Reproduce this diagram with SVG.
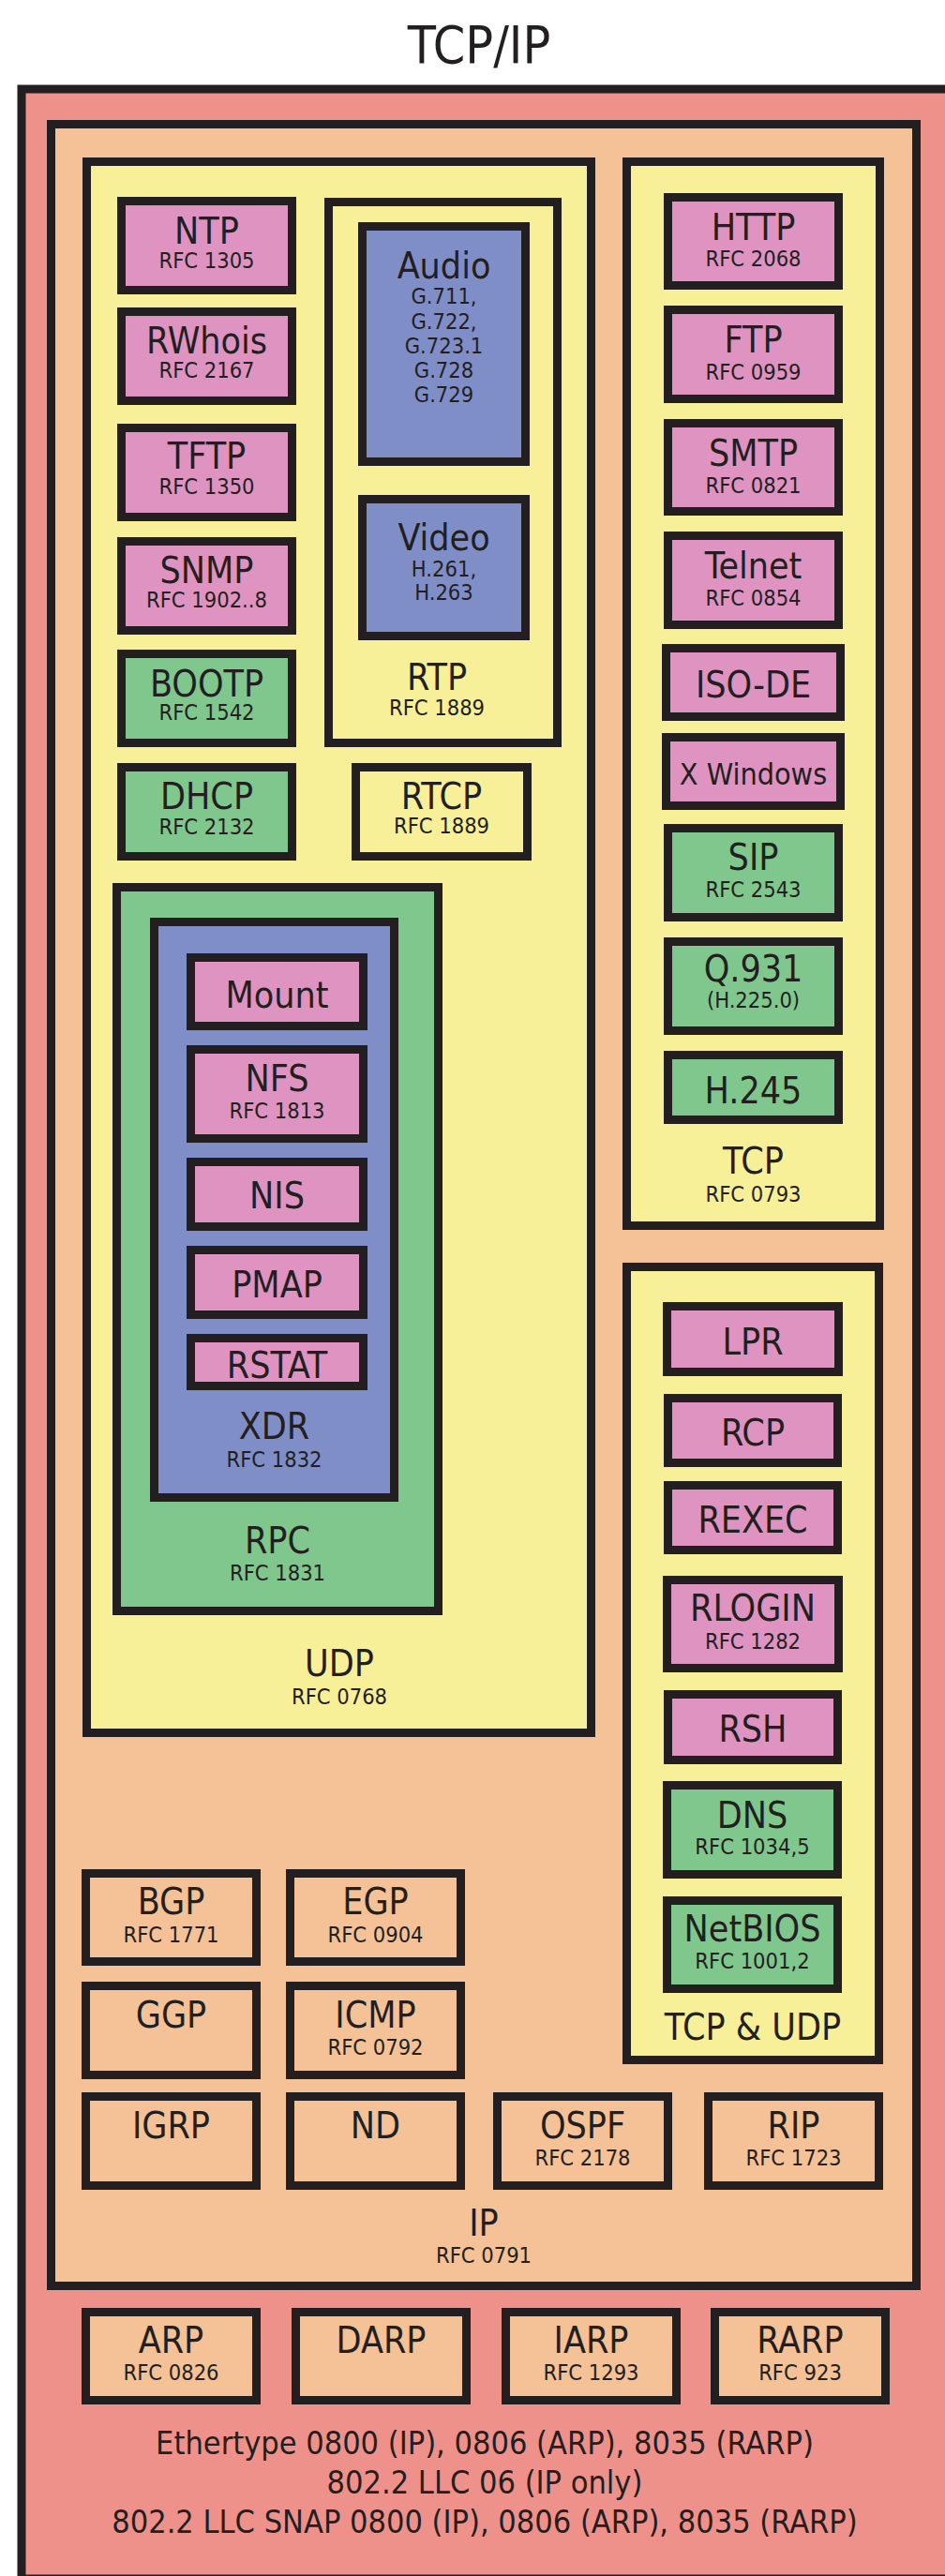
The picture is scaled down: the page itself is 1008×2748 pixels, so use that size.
<svg xmlns="http://www.w3.org/2000/svg" width="1008" height="2748" viewBox="0 0 1008 2748">
<style>
.b{stroke:#231F20;stroke-width:9}
.red{fill:#EF918B}.org{fill:#F4C296}.yel{fill:#F8EF99}.pnk{fill:#DF93C0}.blu{fill:#808EC8}.grn{fill:#80C78E}
text{font-family:"DejaVu Sans Condensed","DejaVu Sans",sans-serif;font-stretch:condensed;fill:#231F20;text-anchor:middle}
.m{font-size:39px}.s{font-size:23.5px}.xw{font-size:32px}.t{font-size:55px}.f{font-size:34px}
</style>
<rect width="1008" height="2748" fill="#ffffff"/>
<text class="t" x="511" y="67">TCP/IP</text>
<g id="link">
<rect class="b red" x="23" y="95" width="1005" height="2656"/>
<g id="ip">
<rect class="b org" x="54.5" y="132.5" width="923" height="2306"/>
<text class="m" x="516" y="2385">IP</text><text class="s" x="516" y="2414">RFC 0791</text>
<g id="udp">
<rect class="b yel" x="92.5" y="172.5" width="538" height="1676"/>
<text class="m" x="362" y="1788">UDP</text><text class="s" x="362" y="1818">RFC 0768</text>
<g id="ntp"><rect class="b pnk" x="129.5" y="214.5" width="182" height="95"/><text class="m" x="220.5" y="260">NTP</text><text class="s" x="220.5" y="286">RFC 1305</text></g>
<g id="rwhois"><rect class="b pnk" x="129.5" y="332.5" width="182" height="95"/><text class="m" x="220.5" y="377">RWhois</text><text class="s" x="220.5" y="403">RFC 2167</text></g>
<g id="tftp"><rect class="b pnk" x="129.5" y="456.5" width="182" height="95"/><text class="m" x="220.5" y="500">TFTP</text><text class="s" x="220.5" y="527">RFC 1350</text></g>
<g id="snmp"><rect class="b pnk" x="129.5" y="577.5" width="182" height="95"/><text class="m" x="220.5" y="622">SNMP</text><text class="s" x="220.5" y="648">RFC 1902..8</text></g>
<g id="bootp"><rect class="b grn" x="129.5" y="697.5" width="182" height="95"/><text class="m" x="220.5" y="743">BOOTP</text><text class="s" x="220.5" y="768">RFC 1542</text></g>
<g id="dhcp"><rect class="b grn" x="129.5" y="818.5" width="182" height="95"/><text class="m" x="220.5" y="863">DHCP</text><text class="s" x="220.5" y="890">RFC 2132</text></g>
<g id="rtp">
<rect class="b yel" x="350.5" y="215.5" width="244" height="577"/>
<text class="m" x="466" y="736">RTP</text><text class="s" x="466" y="763">RFC 1889</text>
<g id="audio"><rect class="b blu" x="386.5" y="241.5" width="174" height="251"/><text class="m" x="473.5" y="297">Audio</text>
<text class="s" x="473.5" y="324">G.711,</text><text class="s" x="473.5" y="351">G.722,</text><text class="s" x="473.5" y="377">G.723.1</text><text class="s" x="473.5" y="403">G.728</text><text class="s" x="473.5" y="429">G.729</text></g>
<g id="video"><rect class="b blu" x="386.5" y="532.5" width="174" height="146"/><text class="m" x="473.5" y="587">Video</text>
<text class="s" x="473.5" y="615">H.261,</text><text class="s" x="473.5" y="640">H.263</text></g>
</g>
<g id="rtcp"><rect class="b yel" x="379.5" y="818.5" width="183" height="95"/><text class="m" x="471" y="863">RTCP</text><text class="s" x="471" y="889">RFC 1889</text></g>
<g id="rpc">
<rect class="b grn" x="124.5" y="946.5" width="343" height="772"/>
<text class="m" x="296" y="1657">RPC</text><text class="s" x="296" y="1686">RFC 1831</text>
<g id="xdr">
<rect class="b blu" x="164.5" y="983.5" width="256" height="614"/>
<text class="m" x="292.5" y="1535">XDR</text><text class="s" x="292.5" y="1565">RFC 1832</text>
<g id="mount"><rect class="b pnk" x="203.5" y="1021.5" width="184" height="73"/><text class="m" x="295.5" y="1075">Mount</text></g>
<g id="nfs"><rect class="b pnk" x="203.5" y="1119.5" width="184" height="95"/><text class="m" x="295.5" y="1164">NFS</text><text class="s" x="295.5" y="1193">RFC 1813</text></g>
<g id="nis"><rect class="b pnk" x="203.5" y="1239.5" width="184" height="69"/><text class="m" x="295.5" y="1289">NIS</text></g>
<g id="pmap"><rect class="b pnk" x="203.5" y="1333.5" width="184" height="69"/><text class="m" x="295.5" y="1384">PMAP</text></g>
<g id="rstat"><rect class="b pnk" x="203.5" y="1427.5" width="184" height="51"/><text class="m" x="295.5" y="1470">RSTAT</text></g>
</g>
</g>
</g>
<g id="tcp">
<rect class="b yel" x="668.5" y="172.5" width="270" height="1135"/>
<text class="m" x="803.5" y="1252">TCP</text><text class="s" x="803.5" y="1282">RFC 0793</text>
<g id="http"><rect class="b pnk" x="712.5" y="210.5" width="182" height="94"/><text class="m" x="803.5" y="256">HTTP</text><text class="s" x="803.5" y="284">RFC 2068</text></g>
<g id="ftp"><rect class="b pnk" x="712.5" y="330.5" width="182" height="95"/><text class="m" x="803.5" y="376">FTP</text><text class="s" x="803.5" y="405">RFC 0959</text></g>
<g id="smtp"><rect class="b pnk" x="712.5" y="451.5" width="182" height="94"/><text class="m" x="803.5" y="497">SMTP</text><text class="s" x="803.5" y="526">RFC 0821</text></g>
<g id="telnet"><rect class="b pnk" x="712.5" y="571.5" width="182" height="95"/><text class="m" x="803.5" y="617">Telnet</text><text class="s" x="803.5" y="646">RFC 0854</text></g>
<g id="isode"><rect class="b pnk" x="710.5" y="691.5" width="186" height="73"/><text class="m" x="803.5" y="744">ISO-DE</text></g>
<g id="xwindows"><rect class="b pnk" x="710.5" y="786.5" width="186" height="73"/><text class="xw" x="803.5" y="837">X Windows</text></g>
<g id="sip"><rect class="b grn" x="712.5" y="883.5" width="182" height="95"/><text class="m" x="803.5" y="928">SIP</text><text class="s" x="803.5" y="957">RFC 2543</text></g>
<g id="q931"><rect class="b grn" x="712.5" y="1004.5" width="182" height="95"/><text class="m" x="803.5" y="1047">Q.931</text><text class="s" x="803.5" y="1075">(H.225.0)</text></g>
<g id="h245"><rect class="b grn" x="712.5" y="1125.5" width="182" height="69"/><text class="m" x="803.5" y="1177">H.245</text></g>
</g>
<g id="tcpudp">
<rect class="b yel" x="668.5" y="1351.5" width="269" height="846"/>
<text class="m" x="803" y="2176">TCP &amp; UDP</text>
<g id="lpr"><rect class="b pnk" x="711.5" y="1393.5" width="183" height="70"/><text class="m" x="803" y="1445">LPR</text></g>
<g id="rcp"><rect class="b pnk" x="712.5" y="1491.5" width="181" height="69"/><text class="m" x="803" y="1542">RCP</text></g>
<g id="rexec"><rect class="b pnk" x="712.5" y="1584.5" width="181" height="69"/><text class="m" x="803" y="1635">REXEC</text></g>
<g id="rlogin"><rect class="b pnk" x="711.5" y="1685.5" width="183" height="94"/><text class="m" x="803" y="1729">RLOGIN</text><text class="s" x="803" y="1759">RFC 1282</text></g>
<g id="rsh"><rect class="b pnk" x="712.5" y="1807.5" width="181" height="70"/><text class="m" x="803" y="1858">RSH</text></g>
<g id="dns"><rect class="b grn" x="711.5" y="1904.5" width="182" height="95"/><text class="m" x="802.5" y="1950">DNS</text><text class="s" x="802.5" y="1978">RFC 1034,5</text></g>
<g id="netbios"><rect class="b grn" x="711.5" y="2027.5" width="182" height="94"/><text class="m" x="802.5" y="2071">NetBIOS</text><text class="s" x="802.5" y="2100">RFC 1001,2</text></g>
</g>
<g id="bgp"><rect class="b org" x="91.5" y="1998.5" width="182" height="94"/><text class="m" x="182.5" y="2042">BGP</text><text class="s" x="182.5" y="2072">RFC 1771</text></g>
<g id="egp"><rect class="b org" x="309.5" y="1998.5" width="182" height="94"/><text class="m" x="400.5" y="2042">EGP</text><text class="s" x="400.5" y="2072">RFC 0904</text></g>
<g id="ggp"><rect class="b org" x="91.5" y="2118.5" width="182" height="95"/><text class="m" x="182.5" y="2163">GGP</text></g>
<g id="icmp"><rect class="b org" x="309.5" y="2118.5" width="182" height="95"/><text class="m" x="400.5" y="2163">ICMP</text><text class="s" x="400.5" y="2192">RFC 0792</text></g>
<g id="igrp"><rect class="b org" x="91.5" y="2236.5" width="182" height="95"/><text class="m" x="182.5" y="2281">IGRP</text></g>
<g id="nd"><rect class="b org" x="309.5" y="2236.5" width="182" height="95"/><text class="m" x="400.5" y="2281">ND</text></g>
<g id="ospf"><rect class="b org" x="530.5" y="2236.5" width="182" height="95"/><text class="m" x="621.5" y="2281">OSPF</text><text class="s" x="621.5" y="2310">RFC 2178</text></g>
<g id="rip"><rect class="b org" x="755.5" y="2236.5" width="182" height="95"/><text class="m" x="846.5" y="2281">RIP</text><text class="s" x="846.5" y="2310">RFC 1723</text></g>
</g>
<g id="arp"><rect class="b org" x="91.5" y="2466.5" width="182" height="94"/><text class="m" x="182.5" y="2510">ARP</text><text class="s" x="182.5" y="2539">RFC 0826</text></g>
<g id="darp"><rect class="b org" x="315.5" y="2466.5" width="182" height="94"/><text class="m" x="406.5" y="2510">DARP</text></g>
<g id="iarp"><rect class="b org" x="539.5" y="2466.5" width="182" height="94"/><text class="m" x="630.5" y="2510">IARP</text><text class="s" x="630.5" y="2539">RFC 1293</text></g>
<g id="rarp"><rect class="b org" x="762.5" y="2466.5" width="182" height="94"/><text class="m" x="853.5" y="2510">RARP</text><text class="s" x="853.5" y="2539">RFC 923</text></g>
<text class="f" x="517" y="2618">Ethertype 0800 (IP), 0806 (ARP), 8035 (RARP)</text>
<text class="f" x="517" y="2660">802.2 LLC 06 (IP only)</text>
<text class="f" x="517" y="2702">802.2 LLC SNAP 0800 (IP), 0806 (ARP), 8035 (RARP)</text>
</g>
</svg>
